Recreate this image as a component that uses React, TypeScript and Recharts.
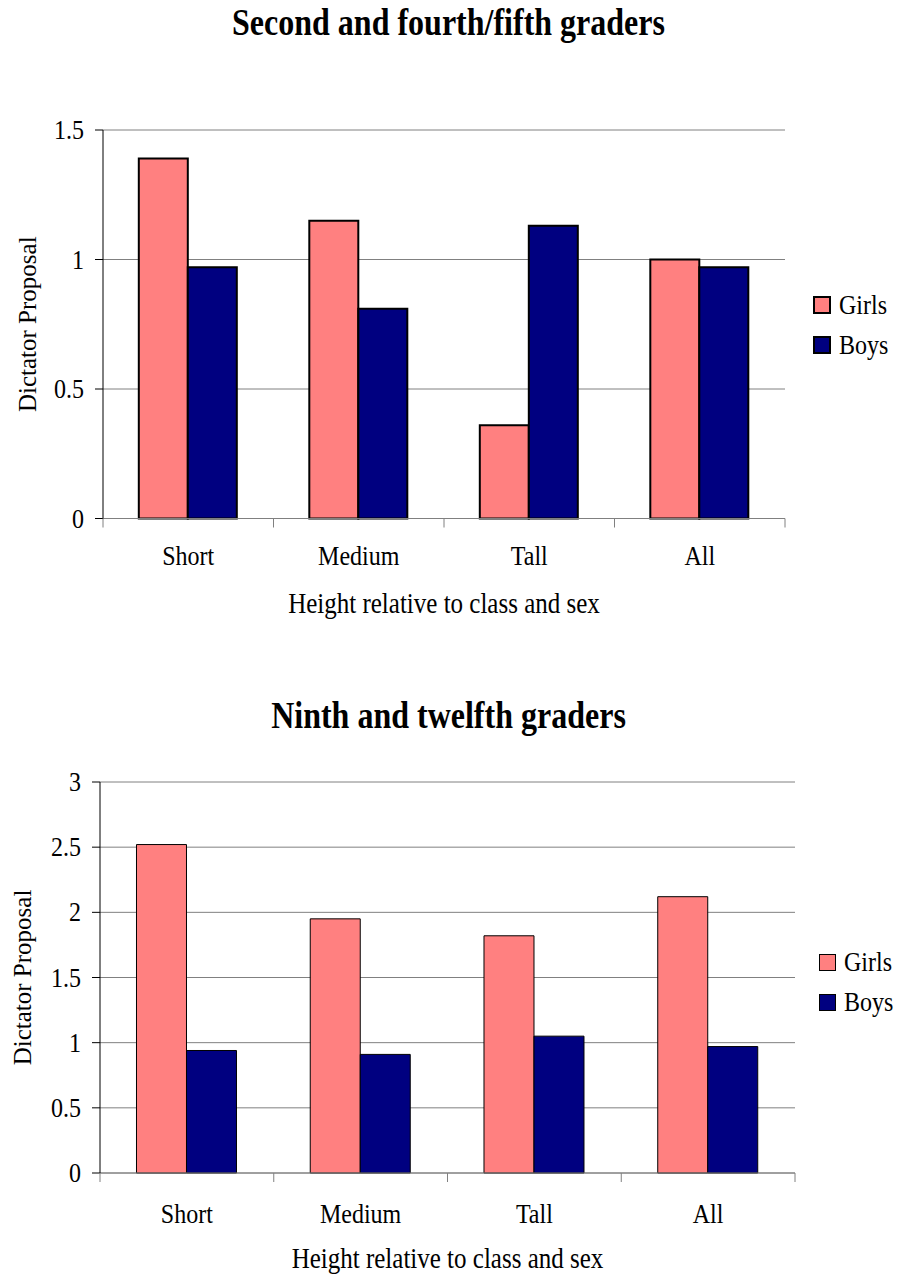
import React from 'react';
import { BarChart, Bar, XAxis, YAxis, CartesianGrid, Legend } from 'recharts';

// Dictator game proposals by relative height, two age groups
const categories = ['Short', 'Medium', 'Tall', 'All'];
const series = ['Girls', 'Boys'];
const youngGirls = [1.39, 1.15, 0.36, 1.0];
const youngBoys = [0.97, 0.81, 1.13, 0.97];
const olderGirls = [2.52, 1.95, 1.82, 2.12];
const olderBoys = [0.94, 0.91, 1.05, 0.97];
const youngTicks = [0, 0.5, 1, 1.5];
const olderTicks = [0, 0.5, 1, 1.5, 2, 2.5, 3];

const FONT = '"Liberation Serif", "Times New Roman", serif';
const GIRLS = '#FF8080';
const BOYS = '#000080';
const STRETCH = 1.16; // glyphs are drawn slightly taller than wide

const toRows = (girls: number[], boys: number[]) =>
  categories.map((name, i) => ({ name, Girls: girls[i], Boys: boys[i] }));

const youngData = toRows(youngGirls, youngBoys);
const olderData = toRows(olderGirls, olderBoys);

const tall = (y: number) => `translate(0 ${y}) scale(1 ${STRETCH}) translate(0 ${-y})`;

// category tick: label in the middle, tick marks on the band edges
const makeCategoryTick = (labelDrop: number) => (props: any) => {
  const { x, y, payload, index, visibleTicksCount, width } = props;
  const half = payload?.offset ?? width / (2 * visibleTicksCount);
  const last = index === visibleTicksCount - 1;
  const ty = y + labelDrop;
  return (
    <g>
      <line x1={x - half} x2={x - half} y1={y} y2={y + 9} stroke="#808080" />
      {last && <line x1={x + half} x2={x + half} y1={y} y2={y + 9} stroke="#808080" />}
      <text x={x} y={ty} transform={tall(ty)} textAnchor="middle" fontSize={24} fontFamily={FONT} fill="#000">
        {payload.value}
      </text>
    </g>
  );
};

const ValueTick = (props: any) => {
  const { x, y, payload } = props;
  return (
    <text x={x} y={y} transform={tall(y)} textAnchor="end" dominantBaseline="central"
      fontSize={24} fontFamily={FONT} fill="#000">
      {payload.value}
    </text>
  );
};

const xTitle = (drop: number) => (props: any) => {
  const { x, y, width } = props.viewBox;
  const ty = y + drop;
  return (
    <text x={x + width / 2} y={ty} transform={tall(ty)} textAnchor="middle" dominantBaseline="central"
      fontSize={25} fontFamily={FONT} fill="#000">
      Height relative to class and sex
    </text>
  );
};

const yTitle = (cx: number) => (props: any) => {
  const { x, y, height } = props.viewBox;
  const ty = y + height / 2;
  return (
    <text x={x + cx} y={ty} textAnchor="middle" dominantBaseline="central"
      transform={`rotate(-90, ${x + cx}, ${ty})`} fontSize={25} fontFamily={FONT} fill="#000">
      Dictator Proposal
    </text>
  );
};

const makeLegend = (strokeWidth: number) => (props: any) => {
  const items = [...props.payload].sort(
    (a: any, b: any) => series.indexOf(a.value) - series.indexOf(b.value));
  return (
    <div style={{ fontFamily: FONT, fontSize: 24, color: '#000' }}>
      {items.map((item: any) => (
        <div key={item.value} style={{ display: 'flex', alignItems: 'center', height: 40 }}>
          <span style={{
            display: 'inline-block', width: 16 - strokeWidth, height: 16 - strokeWidth,
            background: item.color, border: `${strokeWidth}px solid #000`, marginRight: 8,
          }} />
          <span style={{ display: 'inline-block', transform: `scaleY(${STRETCH})` }}>{item.value}</span>
        </div>
      ))}
    </div>
  );
};

const titleStyle = (top: number): React.CSSProperties => ({
  position: 'absolute', left: 0, top, width: 897, textAlign: 'center',
  fontFamily: FONT, fontWeight: 'bold', fontSize: 32, lineHeight: '40px',
  transform: `scaleY(${STRETCH})`,
});

export default function App() {
  return (
    <div style={{ position: 'absolute', left: 0, top: 0, width: 897, height: 1277, background: '#fff' }}>
      <div style={titleStyle(2)}>Second and fourth/fifth graders</div>
      <div style={{ position: 'absolute', left: 0, top: 0 }}>
        <BarChart width={897} height={640} data={youngData}
          margin={{ top: 130, right: 28, left: 0, bottom: 0 }}
          barCategoryGap="21%" barGap={0}>
          <CartesianGrid vertical={false} stroke="#808080" />
          <XAxis dataKey="name" height={121.5} tickLine={false} tickSize={0} tickMargin={0}
            axisLine={{ stroke: '#808080' }} interval={0} tick={makeCategoryTick(47)}
            label={{ content: xTitle(85) }} />
          <YAxis type="number" domain={[0, 1.5]} ticks={youngTicks} width={103} interval={0}
            tickSize={8} tickMargin={11} axisLine={{ stroke: '#000' }} tickLine={{ stroke: '#000' }}
            tick={ValueTick} label={{ content: yTitle(27) }} />
          <Legend layout="vertical" align="right" verticalAlign="middle" content={makeLegend(2)}
            wrapperStyle={{ left: 813, top: 285, width: 84 }} />
          <Bar dataKey="Girls" fill={GIRLS} stroke="#000" strokeWidth={2} isAnimationActive={false} />
          <Bar dataKey="Boys" fill={BOYS} stroke="#000" strokeWidth={2} isAnimationActive={false} />
        </BarChart>
      </div>

      <div style={titleStyle(695)}>Ninth and twelfth graders</div>
      <div style={{ position: 'absolute', left: 0, top: 652 }}>
        <BarChart width={897} height={625} data={olderData}
          margin={{ top: 130, right: 24, left: 0, bottom: 0 }}
          barCategoryGap="21%" barGap={0}>
          <CartesianGrid vertical={false} stroke="#808080" />
          <XAxis dataKey="name" height={104} tickLine={false} tickSize={0} tickMargin={0}
            axisLine={{ stroke: '#808080' }} interval={0} tick={makeCategoryTick(50)}
            label={{ content: xTitle(85) }} />
          <YAxis type="number" domain={[0, 3]} ticks={olderTicks} width={100} interval={0}
            tickSize={8} tickMargin={11} axisLine={{ stroke: '#000' }} tickLine={{ stroke: '#000' }}
            tick={ValueTick} label={{ content: yTitle(22) }} />
          <Legend layout="vertical" align="right" verticalAlign="middle" content={makeLegend(1)}
            wrapperStyle={{ left: 819, top: 290, width: 78 }} />
          <Bar dataKey="Girls" fill={GIRLS} stroke="#000" strokeWidth={1} isAnimationActive={false} />
          <Bar dataKey="Boys" fill={BOYS} stroke="#000" strokeWidth={1} isAnimationActive={false} />
        </BarChart>
      </div>
    </div>
  );
}
